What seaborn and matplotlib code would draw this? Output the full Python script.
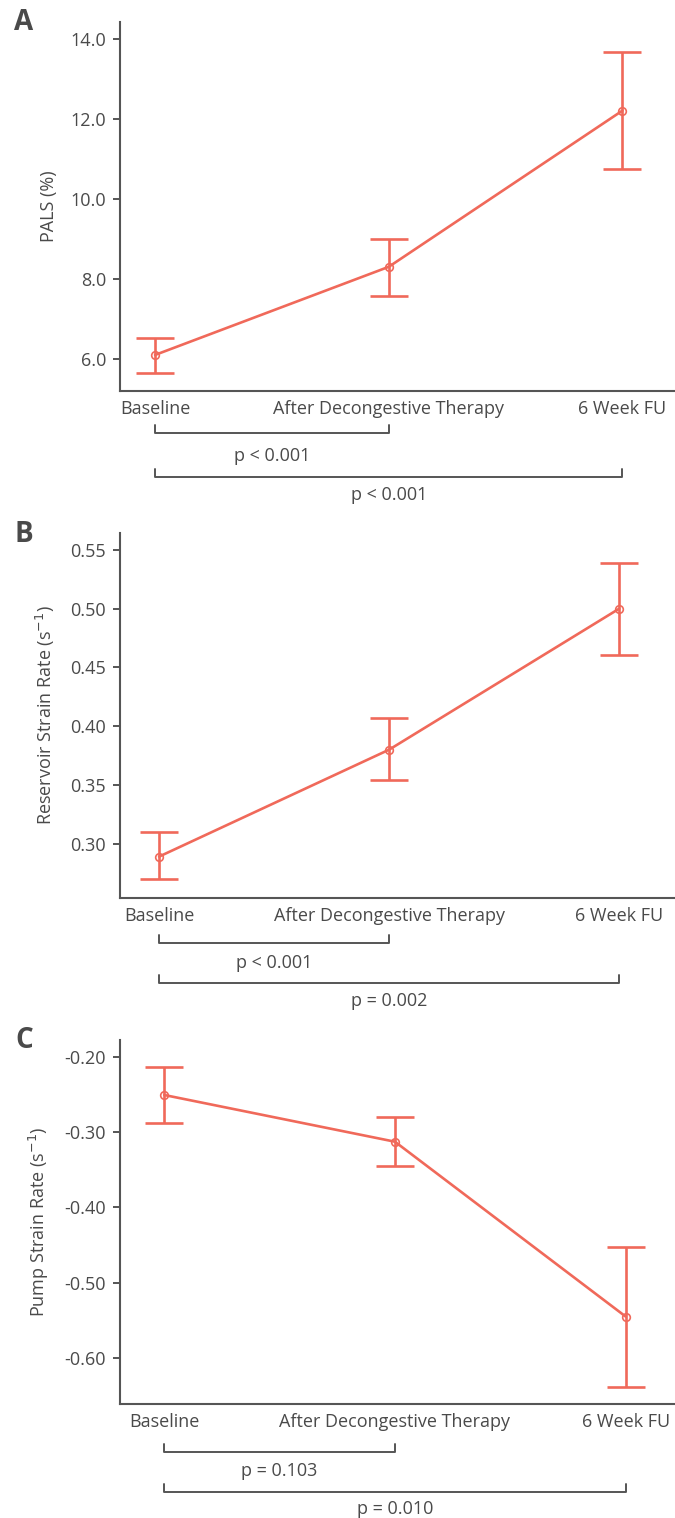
import matplotlib
matplotlib.use('Agg')
import matplotlib.pyplot as plt
import matplotlib.transforms as mtransforms
import seaborn as sns

# categorias do eixo x
categories = ['Baseline', 'After Decongestive Therapy', '6 Week FU']
positions = [0, 1, 2]

# Painel A - PALS (%)
pals_mean = [6.11, 8.31, 12.21]
pals_low = [5.66, 7.58, 10.75]
pals_high = [6.54, 9.00, 13.68]
pals_p = ['p < 0.001', 'p < 0.001']

# Painel B - Reservoir strain rate
res_mean = [0.289, 0.380, 0.500]
res_low = [0.270, 0.354, 0.461]
res_high = [0.310, 0.407, 0.539]
res_p = ['p < 0.001', 'p = 0.002']

# Painel C - Pump strain rate
pump_mean = [-0.251, -0.313, -0.545]
pump_low = [-0.288, -0.345, -0.638]
pump_high = [-0.214, -0.280, -0.453]
pump_p = ['p = 0.103', 'p = 0.010']

sns.set_theme(style='white')
plt.rcParams['font.family'] = ['Open Sans', 'DejaVu Sans']

W, H = 675, 1518
LINE = '#F0695A'
GREY = '#555555'
TXT = '#4a4a4a'
FS = 13

fig = plt.figure(figsize=(W / 100, H / 100), dpi=100)

# (letra, media, baixo, alto, p, rotulo, ylim, yticks, fmt, xlim, topo_px, base_px, ylabel_x, brackets_px)
panels = [
    ('A', pals_mean, pals_low, pals_high, pals_p, 'PALS (%)',
     (5.21, 14.43), [6, 8, 10, 12, 14], '{:.1f}', (-0.15, 2.225),
     21.7, 391, -0.112, (433, 456, 477, 495)),
    ('B', res_mean, res_low, res_high, res_p, 'Reservoir Strain Rate (s$^{-1}$)',
     (0.254, 0.5642), [0.30, 0.35, 0.40, 0.45, 0.50, 0.55], '{:.2f}', (-0.17, 2.243),
     533.3, 897.7, -0.113, (943, 963, 983, 1001)),
    ('C', pump_mean, pump_low, pump_high, pump_p, 'Pump Strain Rate (s$^{-1}$)',
     (-0.6615, -0.178), [-0.6, -0.5, -0.4, -0.3, -0.2], '{:.2f}', (-0.192, 2.214),
     1040, 1404.3, -0.125, (1452, 1471, 1492, 1509)),
]

for (letter, mean, low, high, pvals, ylabel, ylim, yticks, fmt, xlim,
     top_px, bot_px, ylab_x, br) in panels:
    ax = fig.add_axes([120 / W, 1 - bot_px / H, 555 / W, (bot_px - top_px) / H])

    # barras de erro
    yerr = [[m - l for m, l in zip(mean, low)], [h - m for m, h in zip(mean, high)]]
    ax.errorbar(positions, mean, yerr=yerr, fmt='none', ecolor=LINE,
                elinewidth=1.9, capsize=13.5, capthick=1.9, zorder=2)

    # linha com marcadores
    sns.lineplot(x=positions, y=mean, ax=ax, color=LINE, linewidth=1.9,
                 marker='o', markersize=5.5, markerfacecolor='none',
                 markeredgecolor=LINE, markeredgewidth=1.2, zorder=3)

    ax.set_xlim(*xlim)
    ax.set_ylim(*ylim)
    ax.set_xticks(positions)
    ax.set_xticklabels(categories)
    ax.set_yticks(yticks)
    ax.set_yticklabels([fmt.format(v) for v in yticks])
    ax.tick_params(axis='x', length=0, pad=6.5, labelsize=FS, labelcolor=TXT)
    ax.tick_params(axis='y', length=5, width=1.4, color=GREY, pad=5,
                   labelsize=FS, labelcolor=TXT, left=True)
    sns.despine(ax=ax)
    for s in ['left', 'bottom']:
        ax.spines[s].set_color(GREY)
        ax.spines[s].set_linewidth(1.5)
    ax.set_ylabel(ylabel, fontsize=FS, color=TXT)
    ax.yaxis.set_label_coords(ylab_x, 0.5)

    # colchetes com valores de p
    trans = mtransforms.blended_transform_factory(ax.transData, fig.transFigure)
    b1, t1, b2, t2 = br
    for (x0, x1), yb, yt, txt in [((0, 1), b1, t1, pvals[0]), ((0, 2), b2, t2, pvals[1])]:
        yf = 1 - yb / H
        tick = 8 / H
        ax.plot([x0, x0, x1, x1], [yf + tick, yf, yf, yf + tick], transform=trans,
                color=GREY, linewidth=1.4, clip_on=False)
        ax.text((x0 + x1) / 2, 1 - yt / H, txt, transform=trans, ha='center',
                va='center', fontsize=FS, color=TXT)

    fig.text(24 / W, 1 - (top_px + 1) / H, letter, fontsize=20, fontweight='bold',
             color=TXT, ha='center', va='center')

fig.savefig('out.png', dpi=100)
